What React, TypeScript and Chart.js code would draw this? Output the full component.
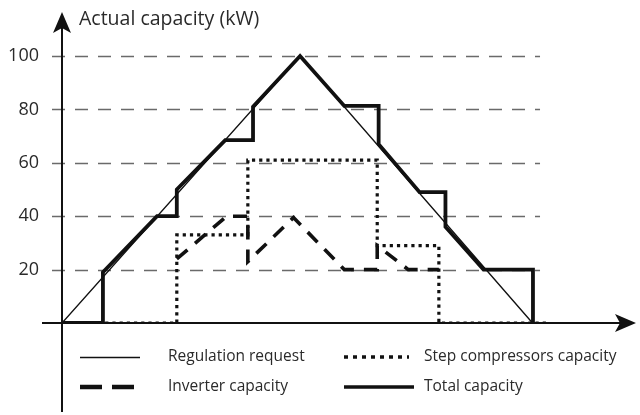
import React, { useEffect, useRef } from "react";
import { Chart, registerables } from "chart.js";

Chart.register(...registerables);

// ---- data ----
const yTicks = [20, 40, 60, 80, 100];

const requestX = [0, 50.6, 100];
const requestY = [0, 100, 0];

const totalX = [0, 8.7, 8.7, 20.2, 24.4, 24.4, 34.7, 40.6, 40.6, 50.6, 60.0, 67.3, 67.3, 76.0, 81.5, 81.5, 89.6, 100.1, 100.1];
const totalY = [0, 0, 19, 40, 40, 50, 68.5, 68.5, 81, 100, 81.3, 81.3, 67, 49, 49, 36, 20, 20, 0];

const stepX = [0, 24.4, 24.4, 39.5, 39.5, 67.0, 67.0, 80.1, 80.1, 103.2];
const stepY = [0, 0, 33, 33, 61, 61, 29, 29, 0, 0];

const inverterX = [24.4, 35.0, 39.5, 39.5, 49.2, 60.0, 67.0, 67.0, 73.6, 80.1];
const inverterY = [24, 40, 40, 23, 39.5, 20, 20, 29, 20, 20];

const yAxisTitle = "Actual capacity (kW)";
const legendItems = [
  { label: "Regulation request", style: "thin" },
  { label: "Step compressors capacity", style: "dotted" },
  { label: "Inverter capacity", style: "dashed" },
  { label: "Total capacity", style: "thick" },
];

const FONT = "'Open Sans', 'Noto Sans', sans-serif";
const INK = "#111";
const TEXT = "#2a2a2a";

const pts = (xs: number[], ys: number[]) => xs.map((x, i) => ({ x, y: ys[i] }));

const decorPlugin = {
  id: "decor",
  beforeDatasetsDraw(chart: any) {
    const { ctx, chartArea, scales } = chart;
    const xs = scales.x;
    const ys = scales.y;
    ctx.save();
    // dashed gridlines
    ctx.strokeStyle = "#6a6a6a";
    ctx.lineWidth = 1.3;
    ctx.setLineDash([13, 10]);
    const gx0 = chartArea.left - 10;
    const gx1 = xs.getPixelForValue(101.6);
    yTicks.forEach((v) => {
      const y = Math.round(ys.getPixelForValue(v)) + 0.5;
      ctx.beginPath();
      ctx.moveTo(gx0, y);
      ctx.lineTo(gx1, y);
      ctx.stroke();
    });
    ctx.setLineDash([]);
    // tick labels
    ctx.fillStyle = TEXT;
    ctx.font = `18px ${FONT}`;
    ctx.textAlign = "right";
    ctx.textBaseline = "middle";
    yTicks.forEach((v) => {
      ctx.fillText(String(v), chartArea.left - 23, ys.getPixelForValue(v));
    });
    // axes
    const ox = xs.getPixelForValue(0);
    const oy = ys.getPixelForValue(0);
    ctx.strokeStyle = INK;
    ctx.fillStyle = INK;
    ctx.lineWidth = 2;
    ctx.beginPath();
    ctx.moveTo(ox, chartArea.top + 8);
    ctx.lineTo(ox, chart.height - 3);
    ctx.stroke();
    ctx.beginPath();
    ctx.moveTo(chartArea.left - 20, oy);
    ctx.lineTo(chartArea.right - 8, oy);
    ctx.stroke();
    // y arrow
    const top = chartArea.top;
    ctx.beginPath();
    ctx.moveTo(ox, top);
    ctx.lineTo(ox + 9, top + 21);
    ctx.lineTo(ox, top + 16);
    ctx.lineTo(ox - 9, top + 21);
    ctx.closePath();
    ctx.fill();
    // x arrow
    const right = chartArea.right;
    ctx.beginPath();
    ctx.moveTo(right, oy);
    ctx.lineTo(right - 21, oy - 9);
    ctx.lineTo(right - 16, oy);
    ctx.lineTo(right - 21, oy + 9);
    ctx.closePath();
    ctx.fill();
    ctx.restore();
  },
  afterDraw(chart: any) {
    const { ctx, chartArea } = chart;
    ctx.save();
    // axis title
    ctx.fillStyle = TEXT;
    ctx.font = `19.5px ${FONT}`;
    ctx.textAlign = "left";
    ctx.textBaseline = "middle";
    ctx.fillText(yAxisTitle, chartArea.left + 17, chartArea.top + 7);

    // legend
    const cols = [80, 344];
    const rows = [357, 387];
    const textOff = [88, 80];
    legendItems.forEach((it, i) => {
      const col = i % 2;
      const row = Math.floor(i / 2);
      const x0 = cols[col];
      const y = rows[row];
      ctx.strokeStyle = INK;
      ctx.lineCap = "butt";
      ctx.beginPath();
      if (it.style === "thin") {
        ctx.lineWidth = 1.4;
        ctx.setLineDash([]);
        ctx.moveTo(x0, y + 0.5);
        ctx.lineTo(x0 + 60, y + 0.5);
      } else if (it.style === "dotted") {
        ctx.lineWidth = 3.5;
        ctx.setLineDash([4, 5]);
        ctx.moveTo(x0, y);
        ctx.lineTo(x0 + 65, y);
      } else if (it.style === "dashed") {
        ctx.lineWidth = 4.5;
        ctx.setLineDash([22, 10]);
        ctx.moveTo(x0, y);
        ctx.lineTo(x0 + 54, y);
      } else {
        ctx.lineWidth = 3.5;
        ctx.setLineDash([]);
        ctx.moveTo(x0, y);
        ctx.lineTo(x0 + 70, y);
      }
      ctx.stroke();
      ctx.setLineDash([]);
      ctx.fillStyle = TEXT;
      ctx.font = `15.5px ${FONT}`;
      ctx.textAlign = "left";
      ctx.textBaseline = "middle";
      ctx.fillText(it.label, x0 + textOff[col], y);
    });
    ctx.restore();
  },
};

export default function App() {
  const ref = useRef<HTMLCanvasElement | null>(null);

  useEffect(() => {
    document.body.style.margin = "0";
    const canvas = ref.current;
    if (!canvas) return;
    const chart = new Chart(canvas, {
      type: "line",
      data: {
        datasets: [
          {
            label: "Regulation request",
            data: pts(requestX, requestY),
            borderColor: INK,
            borderWidth: 1.4,
            pointRadius: 0,
            fill: false,
          },
          {
            label: "Step compressors capacity",
            data: pts(stepX, stepY),
            borderColor: INK,
            borderWidth: 3.2,
            borderDash: [3.2, 4],
            borderCapStyle: "butt",
            pointRadius: 0,
            fill: false,
          },
          {
            label: "Inverter capacity",
            data: pts(inverterX, inverterY),
            borderColor: INK,
            borderWidth: 3.6,
            borderDash: [14, 10],
            pointRadius: 0,
            fill: false,
          },
          {
            label: "Total capacity",
            data: pts(totalX, totalY),
            borderColor: INK,
            borderWidth: 3.8,
            borderJoinStyle: "miter",
            pointRadius: 0,
            fill: false,
          },
        ],
      },
      options: {
        animation: false,
        responsive: false,
        maintainAspectRatio: false,
        layout: { padding: { left: 62, right: 4, top: 12, bottom: 92 } },
        scales: {
          x: { type: "linear", min: 0, max: 122, display: false },
          y: { type: "linear", min: 0, max: 116.5, display: false },
        },
        plugins: {
          legend: { display: false },
          tooltip: { enabled: false },
        },
      },
      plugins: [decorPlugin],
    } as any);
    return () => chart.destroy();
  }, []);

  return (
    <div style={{ width: 640, height: 415, background: "#fff" }}>
      <canvas ref={ref} width={640} height={415} style={{ display: "block" }} />
    </div>
  );
}
